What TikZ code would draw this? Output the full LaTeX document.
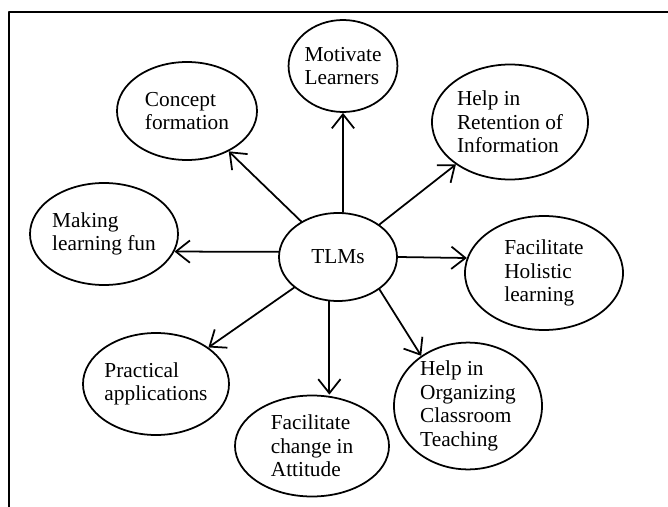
\documentclass[tikz,border=0pt]{standalone}
\usepackage{fontspec}
\setmainfont{Liberation Serif}
\usetikzlibrary{arrows.meta,shapes.geometric}

\tikzset{
  bolla/.style={draw, ellipse, line width=1.5pt, inner sep=0pt, align=left,
    font=\fontsize{18.2}{20}\selectfont},
  freccia/.style={-{Straight Barb[length=12pt, width=19pt, line width=1.5pt]}, line width=1.5pt}
}

\begin{document}
\begin{tikzpicture}[x=0.03cm, y=-0.03cm, line cap=round, line join=round]

    \useasboundingbox (0,0) rectangle (668,507);

    % Cornice (solo lato sinistro e superiore)
    \draw[line width=1.7pt] (9,507) -- (9,12) -- (668,12);

    % Nodo centrale
    \node[bolla, minimum width=3.54cm, minimum height=2.64cm] (tlm) at (338,257) {TLMs};

    % Bolle esterne, in senso orario partendo dall'alto
    \node[bolla, minimum width=3.0cm,  minimum height=2.76cm] (mot)  at (343,66)  {Motivate\\Learners};
    \node[bolla, minimum width=4.68cm, minimum height=3.45cm] (ret)  at (510,122) {Help in\\Retention of\\Information};
    \node[bolla, minimum width=4.74cm, minimum height=3.42cm] (hol)  at (544,273) {Facilitate\\Holistic\\learning};
    \node[bolla, minimum width=4.44cm, minimum height=3.66cm] (org)  at (468,406) {Help in\\Organizing\\Classroom\\Teaching};
    \node[bolla, minimum width=4.62cm, minimum height=3.03cm] (att)  at (312,446) {Facilitate\\change in\\Attitude};
    \node[bolla, minimum width=4.38cm, minimum height=3.06cm] (prac) at (156,384) {Practical\\applications};
    \node[bolla, minimum width=4.44cm, minimum height=3.06cm] (fun)  at (104,234) {Making\\learning fun};
    \node[bolla, minimum width=4.2cm,  minimum height=2.94cm] (conc) at (187,111) {Concept\\formation};

    % Frecce dal centro verso le bolle
    \draw[freccia] (tlm.north -| mot) -- (mot);
    \draw[freccia] (tlm) -- (ret);
    \draw[freccia] (tlm.east) -- (hol.169);
    \draw[freccia] (tlm.-38) -- (org.133);
    \draw[freccia] (tlm.259.5) -- (tlm.259.5 |- att.north);
    \draw[freccia] (tlm) -- (prac);
    \draw[freccia] (tlm.175) -- (fun.-14);
    \draw[freccia] (tlm) -- (conc);

\end{tikzpicture}
\end{document}
